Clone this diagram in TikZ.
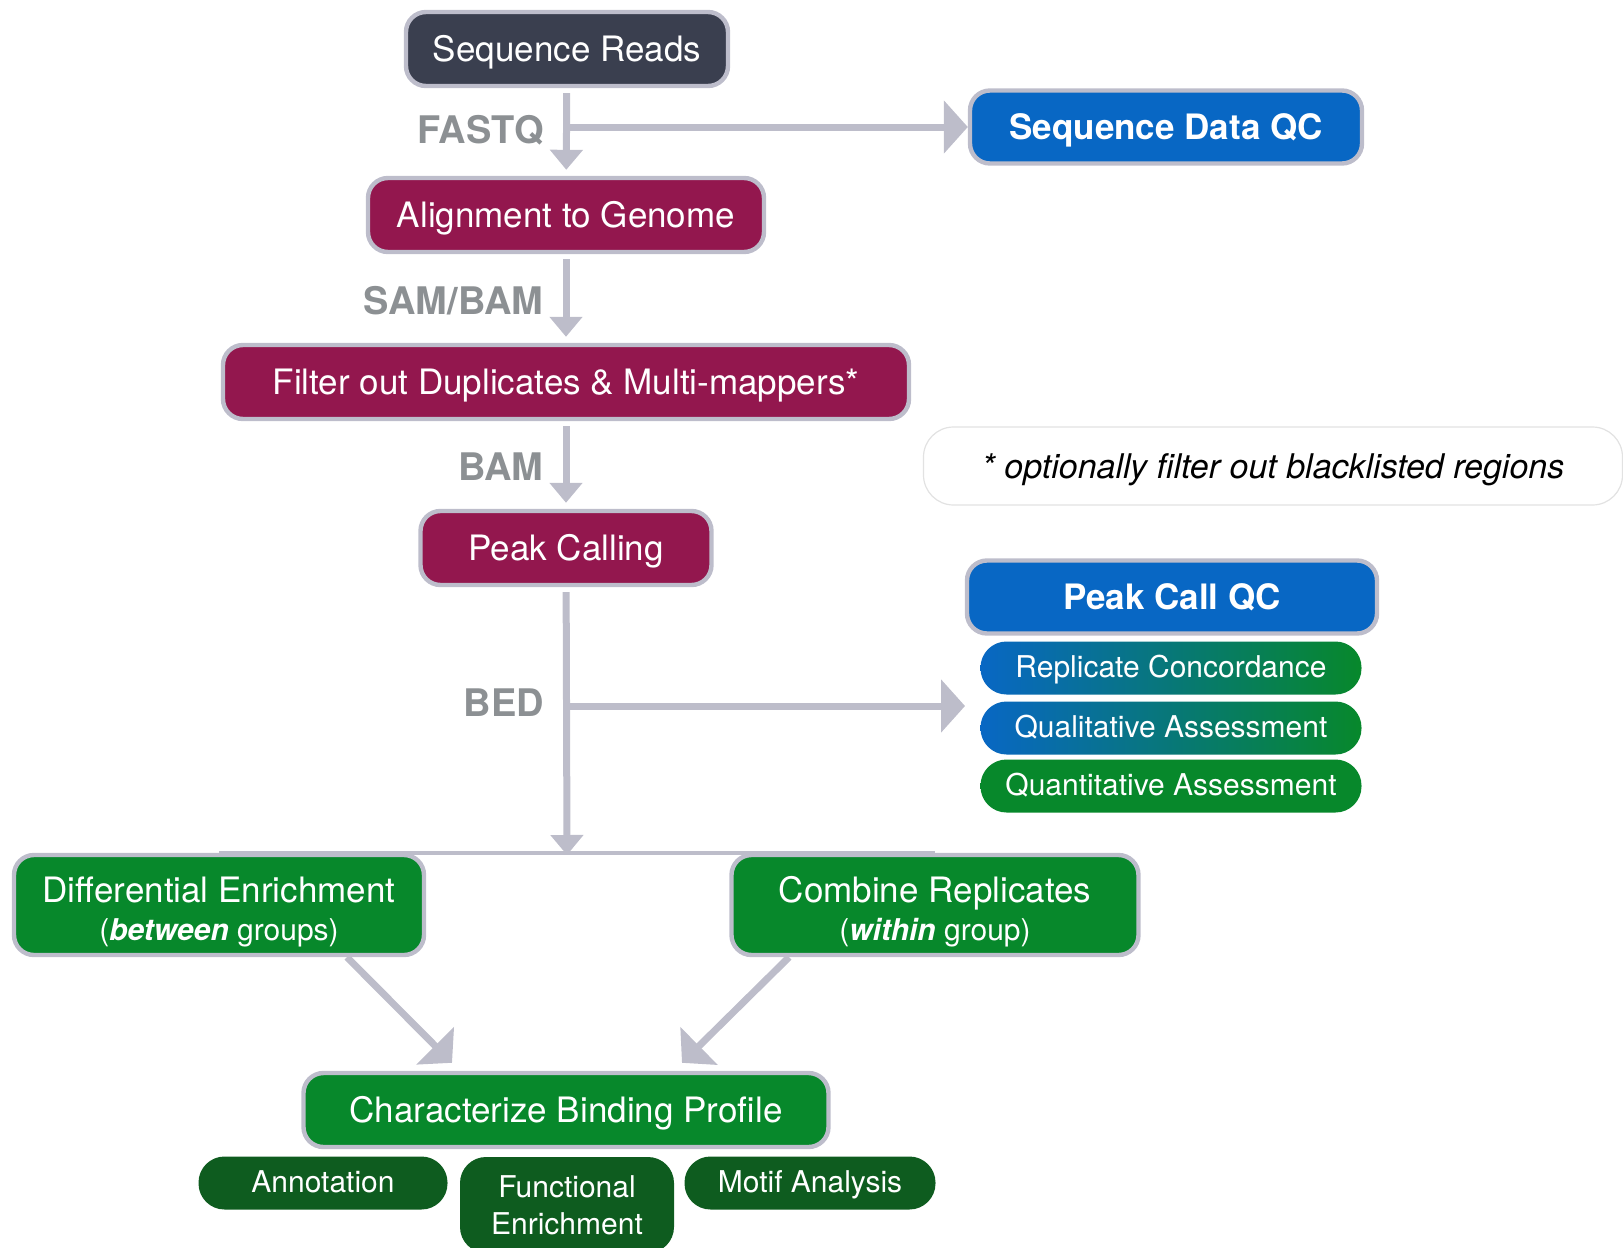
\documentclass[tikz,border=0pt]{standalone}
\usepackage{fontspec}
\setmainfont{TeX Gyre Heros}
\usetikzlibrary{arrows.meta, backgrounds}
\definecolor{slate}{HTML}{3A3F4F}
\definecolor{wine}{HTML}{93174E}
\definecolor{qcblue}{HTML}{0867C4}
\definecolor{leaf}{HTML}{07882B}
\definecolor{forest}{HTML}{0E5C1F}
\definecolor{rim}{HTML}{BDBDCB}
\definecolor{pipe}{HTML}{BDBDCA}
\definecolor{fmt}{HTML}{8C9093}
\definecolor{hair}{HTML}{E2E2E2}

\begin{document}
\begin{tikzpicture}[x=0.5pt, y=-0.5pt,
  box/.style={rounded corners=10pt, draw=rim, line width=2.2pt, text=white,
    font=\fontsize{17.5}{20}\selectfont, minimum height=37pt, inner sep=0pt, align=center,
    text height=13pt, text depth=0.3pt},
  sub/.style={rounded corners=13pt, text=white, font=\fontsize{15}{18.5}\selectfont,
    minimum height=26.5pt, inner sep=0pt, align=center, text height=10.8pt, text depth=1.2pt},
  flow/.style={draw=pipe, line width=3.5pt, -{Triangle[width=16pt,length=10pt]},
    shorten <=2.5pt, shorten >=3pt},
  wide/.style={draw=pipe, line width=3.5pt, -{Triangle[width=26pt,length=12pt]}},
  fmtlbl/.style={text=fmt, font=\fontsize{19}{21}\selectfont\bfseries, inner sep=0pt, left=9.5pt}
]
  \useasboundingbox (0,0) rectangle (1623,1248);
  % Main pipeline
  \node[box, fill=slate, minimum width=161pt] (reads) at (567,49) {Sequence Reads};
  \node[box, fill=wine, minimum width=198pt] (align) at (566,215) {Alignment to Genome};
  \node[box, fill=wine, minimum width=343pt] (filt) at (566,382) {Filter out Duplicates \& Multi-mappers*};
  \node[box, fill=wine, minimum width=145.5pt] (pcall) at (566,548) {Peak Calling};
  % QC side
  \node[box, fill=qcblue, minimum width=196pt, minimum height=36.5pt,
        font=\fontsize{17.5}{20}\selectfont\bfseries] (sqc) at (1166,127) {Sequence Data QC};
  \node[box, fill=qcblue, minimum width=205pt, minimum height=36.5pt,
        font=\fontsize{17.5}{20}\selectfont\bfseries] (pqc) at (1172,597) {Peak Call QC};
  \foreach \i/\y/\t/\c in {1/668/Replicate Concordance/qcblue,
                           2/728/Qualitative Assessment/qcblue,
                           3/786/Quantitative Assessment/leaf}
    \node[sub, left color=\c, right color=leaf, minimum width=190.5pt] (qc\i) at (1171,\y) {\t};
  % Footnote
  \node[draw=hair, line width=0.6pt, fill=white, rounded corners=15pt, minimum width=349.5pt,
        minimum height=39pt, text height=12.5pt, text depth=0pt,
        font=\fontsize{17}{20}\selectfont\itshape] (note) at (1273,466)
        {* optionally filter out blacklisted regions};
  % Downstream
  \node[box, fill=leaf, minimum width=205pt, minimum height=50pt, text height=35.5pt, text depth=0pt]
        (diff) at (219,905)
        {Differential Enrichment\\[-1.2pt]{\fontsize{15}{17}\selectfont(\textbf{\textit{between}} groups)}};
  \node[box, fill=leaf, minimum width=203.5pt, minimum height=50pt, text height=35.5pt, text depth=0pt]
        (comb) at (935,905)
        {Combine Replicates\\[-1.2pt]{\fontsize{15}{17}\selectfont(\textbf{\textit{within}} group)}};
  \node[box, fill=leaf, minimum width=262.5pt, minimum height=37pt] (prof) at (566,1110)
        {Characterize Binding Profile};
  \node[sub, fill=forest, minimum width=124.5pt] (annot) at (323,1183) {Annotation};
  \node[sub, fill=forest, minimum width=107pt, minimum height=48pt, text height=, text depth=]
        (func) at (567,1205) {Functional\\Enrichment};
  \node[sub, fill=forest, minimum width=125.5pt] (motif) at (810,1183) {Motif Analysis};
  % Arrows
  \coordinate (fqfork) at (567,127);
  \coordinate (bedfork) at (567,706);
  \coordinate (qcin) at (965,706);
  \coordinate (join) at (567,855);
  \draw[flow] (reads) -- node[fmtlbl, pos=0.48] {FASTQ} (align);
  \draw[flow] (align) -- node[fmtlbl, pos=0.52] {SAM/BAM} (filt);
  \draw[flow] (filt) -- node[fmtlbl, pos=0.52] {BAM} (pcall);
  \draw[flow, shorten >=0pt] (pcall) -- node[fmtlbl, pos=0.43] {BED} (join);
  \draw[wide] (fqfork) -- (sqc);
  \draw[wide] (bedfork) -- (qcin);
  \begin{scope}[on background layer]
    \draw[pipe, line width=2pt] (diff.north) -- (comb.north);
  \end{scope}
  \draw[wide] ([xshift=64pt]diff.south) -- ([xshift=-57pt, yshift=4pt]prof.north);
  \draw[wide] ([xshift=-73pt]comb.south) -- ([xshift=58pt, yshift=4pt]prof.north);
\end{tikzpicture}
\end{document}
